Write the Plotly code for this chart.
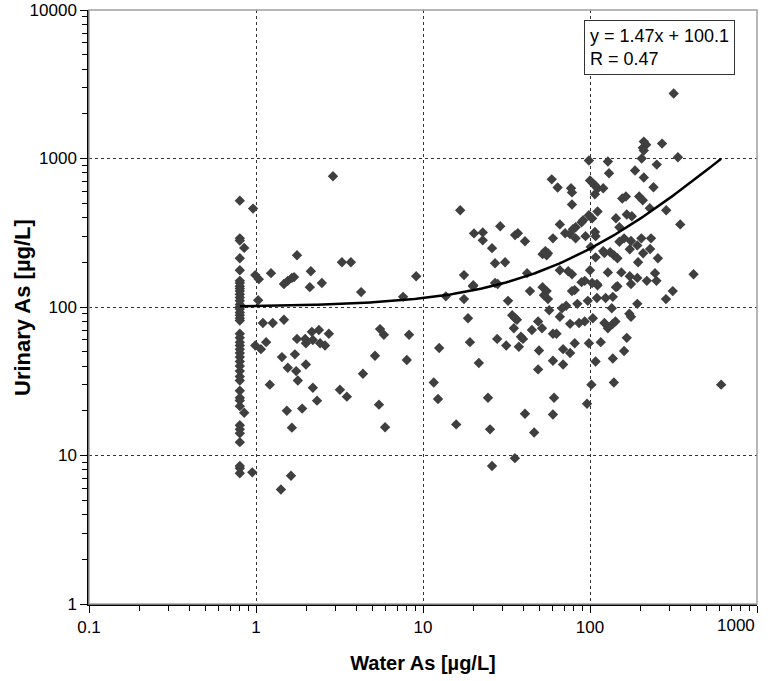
import plotly.graph_objects as go
import math

# Samples at the detection-limit column (water As = 0.8 µg/L)
column_water = 0.8
column_urinary = [520, 290, 280, 213, 177, 150, 145, 138, 133, 128, 122, 116, 110, 104, 100, 97, 92,
                  88, 84, 81, 66, 62, 58, 55, 52, 49, 46, 43, 40, 37, 34, 32, 27.3, 24.5, 23.5,
                  21.5, 16, 15, 14.1, 12.3, 8.5, 8.2, 7.6]

water_as = [0.85, 0.85, 0.96, 1.03, 0.99, 1.04, 1.23, 1.76, 1.47, 1.55, 1.64, 1.69, 2.10, 2.13, 2.48,
            2.89, 3.27, 3.70, 4.26, 7.6, 9.1,
            1.10, 1.26, 1.47, 0.99, 1.07, 1.15, 1.76, 1.97, 2.16, 2.38, 2.73, 2.19, 2.42, 2.59, 1.99,
            1.43, 1.71, 1.99, 1.55, 1.74, 1.78, 1.21, 2.19, 2.32, 3.18, 3.50, 1.53, 1.89, 1.64, 4.37,
            5.16, 5.53, 5.83, 5.45, 5.93, 0.95, 1.62, 1.41, 12.5, 11.6, 12.3, 8.25, 8.0,
            13.7, 17.6, 19.9, 32.3, 43.7, 18.6, 19.1, 21.6, 27.8, 31.5, 34.2, 35.6, 36.5, 35.0, 38.6,
            39.7, 37.5, 44.9, 48.9, 51.6, 49.5, 48.9, 24.5, 15.8, 25.2, 40.8, 46.3, 35.5, 25.9, 60.9,
            60, 96, 102, 139, 610, 60, 69, 69, 76, 81, 98.5, 108, 116, 137, 160, 166, 172, 176, 192,
            135, 142, 137, 128, 122, 104, 93, 86, 76, 66, 72, 68, 60, 63, 57, 53, 56, 84, 97, 110, 124,
            137, 146, 176, 285, 313, 250, 81, 89, 111, 28,
            317, 210, 217, 207, 210, 270, 204, 336, 98.5, 128, 251, 130, 186, 210, 59, 64, 77, 78, 100,
            104, 107, 111, 120, 107, 240, 78, 156, 164, 197, 207, 228, 286, 347, 417, 66, 91, 98.5, 103,
            111, 143, 166, 178, 82, 79, 71, 76, 60, 82, 94, 108, 150, 160, 176, 192, 203, 232, 255, 208,
            194, 173, 120, 132, 139, 146, 108, 101, 54, 56, 55, 66, 74, 78, 100, 128, 154, 173, 192, 219,
            245, 93, 103, 110, 143, 52, 78, 16.7, 20.2, 22.8, 22.8, 29, 35.6, 37, 40.8, 25.9, 27, 31, 52,
            17.6, 42, 20, 27, 55, 150, 229, 107, 89, 122]

urinary_as = [250, 19.4, 460, 111, 164, 154, 169, 223, 143, 150, 157, 159, 136, 174, 145,
              760, 200, 200, 126, 117, 161,
              78, 78, 82, 55, 52, 58, 61, 61, 68, 70, 66, 60, 57, 55, 57,
              46, 48, 41, 39, 37, 32, 30, 28.6, 23.4, 27.7, 24.9, 20, 20.7, 15.4, 35.5,
              47, 71, 65, 22, 15.5, 7.7, 7.3, 5.9, 53, 31, 24, 65, 44,
              118, 113, 138, 110, 128, 84, 58, 42, 61, 55, 88, 84, 82, 72, 63,
              61, 54, 70, 80, 72, 51, 38, 24.5, 16.2, 15, 19.1, 14.3, 9.6, 8.5, 24.5,
              18.9, 22.3, 30, 31, 30, 43.5, 41, 52, 49, 57, 57, 43, 58, 45, 50.6, 62, 90, 86, 105,
              98, 80, 77, 72, 78, 84, 80, 78, 77, 86, 102, 98, 66, 66, 95, 120, 113, 105, 110, 115, 115,
              117, 138, 143, 113, 128, 150, 130, 147, 140, 143,
              2740, 1300, 1240, 1180, 1130, 1260, 1000, 1020, 970, 955, 910, 795, 830, 745, 724, 638, 630, 591, 712,
              680, 660, 628, 630, 575, 640, 490, 538, 555, 555, 523, 463, 448, 360, 166, 360, 384, 415, 395,
              440, 396, 420, 408, 344, 334, 314, 310, 290, 290, 300, 300, 344, 290, 278, 260, 290, 290, 213, 230,
              200, 245, 238, 234, 223, 213, 216, 254, 238, 230, 223, 177, 174, 166, 177, 171, 171, 161, 157, 150,
              169, 150, 145, 143, 136, 136, 128, 448, 313, 318, 281, 350, 305, 314, 277, 249, 197, 200, 227,
              164, 169, 140, 145, 128, 275, 246, 320, 372, 231]

# Axis tick labels
x_tick_vals = [0.1, 1, 10, 100, 1000]
x_tick_text = ["0.1", "1", "10", "100", ""]
x_last_label = "1000"
y_tick_vals = [1, 10, 100, 1000, 10000]
y_tick_text = ["1", "10", "100", "1000", "10000"]

# Trendline shown in the chart: y = 1.47x + 100.1, R = 0.47
slope = 1.47
intercept = 100.1
fit_x_min, fit_x_max = 0.8, 610

all_x = [column_water] * len(column_urinary) + water_as
all_y = column_urinary + urinary_as

n = 200
fit_x = [10 ** (math.log10(fit_x_min) + (math.log10(fit_x_max) - math.log10(fit_x_min)) * i / (n - 1)) for i in range(n)]
fit_y = [slope * v + intercept for v in fit_x]

fig = go.Figure()
fig.add_trace(go.Scatter(x=all_x, y=all_y, mode="markers",
                         marker=dict(symbol="diamond", size=8, color="#3f3f3f"),
                         showlegend=False, cliponaxis=False))
fig.add_trace(go.Scatter(x=fit_x, y=fit_y, mode="lines",
                         line=dict(color="black", width=2.5), showlegend=False))

font_family = "Liberation Sans, Arial, sans-serif"
grid_style = dict(showgrid=True, gridcolor="#333333", gridwidth=1, griddash="3px,3px")

fig.update_xaxes(type="log", range=[-1, 3], automargin=False, ticklabeloverflow="allow",
                 tickvals=x_tick_vals, ticktext=x_tick_text,
                 ticks="outside", ticklen=7, tickcolor="black",
                 minor=dict(ticks="outside", ticklen=5, tickcolor="black", dtick="D1", showgrid=False),
                 showline=True, linecolor="black", linewidth=1.5, zeroline=False,
                 tickfont=dict(family=font_family, size=17, color="black"),
                 title=dict(text="<b>Water As [µg/L]</b>", font=dict(family=font_family, size=20, color="black"), standoff=20),
                 **grid_style)
fig.update_yaxes(type="log", range=[0, 4], automargin=False, ticklabeloverflow="allow",
                 tickvals=y_tick_vals, ticktext=y_tick_text,
                 ticks="outside", ticklen=7, tickcolor="black",
                 minor=dict(ticks="outside", ticklen=5, tickcolor="black", dtick="D1", showgrid=False),
                 showline=True, linecolor="black", linewidth=1.5, zeroline=False,
                 tickfont=dict(family=font_family, size=17, color="black"),
                 **grid_style)

fig.add_annotation(xref="paper", yref="paper", x=-0.1003, y=0.5, xanchor="center", yanchor="middle",
                   text="<b>Urinary As [µg/L]</b>", textangle=-90, showarrow=False,
                   font=dict(family=font_family, size=22, color="black"))

fig.add_shape(type="rect", xref="paper", yref="paper", x0=0, y0=0, x1=1, y1=1,
              line=dict(color="#a0a0a0", width=1.5), layer="above")

fig.add_annotation(xref="paper", yref="paper", x=1.0, y=0, xanchor="right", yanchor="top", yshift=-10,
                   text=x_last_label, showarrow=False,
                   font=dict(family=font_family, size=17, color="black"))

fig.add_annotation(xref="paper", yref="paper", x=0.741, y=0.983, xanchor="left", yanchor="top",
                   text="y = 1.47x + 100.1<br>R = 0.47", align="left", showarrow=False,
                   font=dict(family=font_family, size=18, color="black"),
                   bordercolor="#333333", borderwidth=1, borderpad=5, bgcolor="white")

fig.update_layout(width=778, height=681, margin=dict(l=89, r=21, t=10, b=77),
                  plot_bgcolor="white", paper_bgcolor="white")

fig.write_html("out.html", config={"displayModeBar": False},
               post_script="document.body.style.margin='0';")
